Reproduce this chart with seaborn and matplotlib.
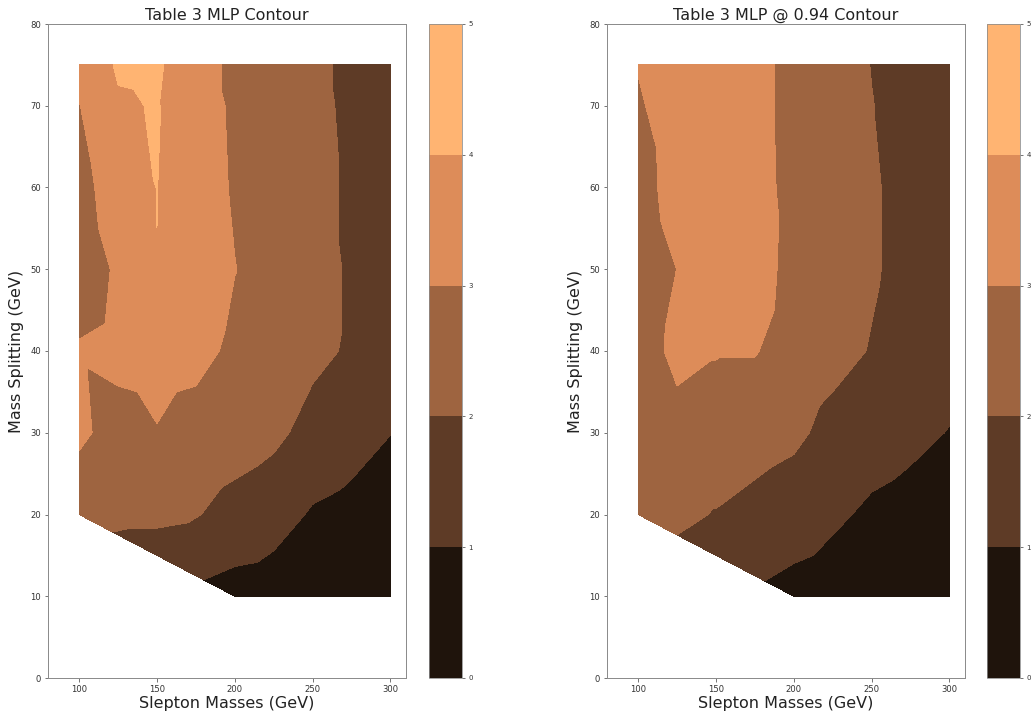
import numpy as np
import matplotlib
matplotlib.use("Agg")
import matplotlib.pyplot as plt
import matplotlib.tri as mtri
import seaborn as sns

# ---------------- data ----------------
slepton_masses = [100, 125, 150, 175, 200, 225, 250, 275, 300]
mass_splittings = [20, 30, 40, 50, 60, 70, 75]

# Table 3 MLP (rows follow mass_splittings, columns follow slepton_masses)
mlp_grid = [
    [2.30, 2.20, 2.10, 2.05, 1.70, 1.40, 0.90, 0.70, 0.40],
    [3.20, 2.60, 2.95, 2.60, 2.40, 2.20, 1.70, 1.40, 1.02],
    [3.10, 3.30, 3.40, 3.30, 2.80, 2.50, 2.20, 1.90, 1.60],
    [2.40, 3.15, 3.99, 3.60, 3.02, 2.60, 2.30, 1.90, 1.50],
    [2.60, 3.60, 4.01, 3.50, 2.90, 2.50, 2.20, 1.90, 1.50],
    [2.97, 3.90, 4.05, 3.45, 2.85, 2.50, 2.20, 1.85, 1.50],
    [3.30, 4.10, 4.15, 3.30, 2.85, 2.50, 2.20, 1.80, 1.50],
]
# Table 3 MLP @ 0.94
mlp094_grid = [
    [2.30, 2.20, 1.95, 1.70, 1.45, 1.15, 0.85, 0.70, 0.50],
    [2.60, 2.60, 2.60, 2.40, 2.20, 1.70, 1.40, 1.20, 0.97],
    [2.40, 3.30, 3.05, 3.05, 2.60, 2.30, 1.95, 1.60, 1.30],
    [2.30, 3.01, 3.60, 3.40, 2.70, 2.40, 2.10, 1.70, 1.40],
    [2.50, 3.50, 3.70, 3.30, 2.75, 2.40, 2.10, 1.70, 1.40],
    [2.87, 3.55, 3.65, 3.30, 2.72, 2.40, 2.02, 1.70, 1.47],
    [3.05, 3.60, 3.60, 3.30, 2.70, 2.40, 1.98, 1.70, 1.50],
]

# points on the lower diagonal edge
edge_masses = [125, 150, 175]
edge_splittings = [17.5, 15.0, 12.5]
mlp_edge = [1.95, 1.80, 1.10]
mlp094_edge = [2.00, 1.60, 1.10]

# lowest splitting row (10 GeV) for heavy sleptons
low_masses = [200, 225, 250, 275, 300]
low_splitting = 10
mlp_low = [0.60, 0.50, 0.40, 0.30, 0.20]
mlp094_low = [0.70, 0.55, 0.40, 0.30, 0.20]

levels = [0, 1, 2, 3, 4, 5]
titles = ["Table 3 MLP Contour", "Table 3 MLP @ 0.94 Contour"]


def gather(grid, edge_vals, low_vals):
    xs, ys, zs = [], [], []
    for dm, row in zip(mass_splittings, grid):
        for m, v in zip(slepton_masses, row):
            xs.append(m); ys.append(dm); zs.append(v)
    for m, dm, v in zip(edge_masses, edge_splittings, edge_vals):
        xs.append(m); ys.append(dm); zs.append(v)
    for m, v in zip(low_masses, low_vals):
        xs.append(m); ys.append(low_splitting); zs.append(v)
    return np.array(xs, float), np.array(ys, float), np.array(zs, float)


# ---------------- style ----------------
sns.set_style("white")
plt.rcParams["font.family"] = ["DejaVu Sans"]
plt.rcParams["axes.edgecolor"] = "#8c8c8c"
plt.rcParams["xtick.color"] = "#555555"
plt.rcParams["ytick.color"] = "#555555"
plt.rcParams["xtick.labelcolor"] = "#333333"
plt.rcParams["ytick.labelcolor"] = "#333333"

W, H = 1035, 715
fig = plt.figure(figsize=(W / 72, H / 72), dpi=72)

panels = [
    (mlp_grid, mlp_edge, mlp_low, (48, 406), (429, 462)),
    (mlp094_grid, mlp094_edge, mlp094_low, (607, 965), (987, 1020)),
]
top_px, bot_px = 24, 678

for (grid, ev, lv, (x0, x1), (c0, c1)), title in zip(panels, titles):
    ax = fig.add_axes([x0 / W, 1 - bot_px / H, (x1 - x0) / W, (bot_px - top_px) / H])
    cax = fig.add_axes([c0 / W, 1 - bot_px / H, (c1 - c0) / W, (bot_px - top_px) / H])
    xs, ys, zs = gather(grid, ev, lv)
    tri = mtri.Triangulation(xs, ys)
    cs = ax.tricontourf(tri, zs, levels=levels, cmap="copper")
    ax.set_xlim(80, 310)
    ax.set_ylim(0, 80)
    ax.set_xticks([100, 150, 200, 250, 300])
    ax.set_yticks(range(0, 81, 10))
    ax.tick_params(axis="both", labelsize=8.5, length=3.5, width=0.8, direction="out",
                   bottom=True, left=True)
    for s in ax.spines.values():
        s.set_linewidth(1.0)
    ax.set_title(title, fontsize=16, pad=4, color="#222222")
    ax.set_xlabel("Slepton Masses (GeV)", fontsize=16, labelpad=2, color="#222222")
    ax.set_ylabel("Mass Splitting (GeV)", fontsize=16, labelpad=6, color="#222222")

    cb = fig.colorbar(cs, cax=cax)
    cb.set_ticks(levels)
    cb.ax.tick_params(labelsize=7, length=3, width=0.8, right=True)
    cb.outline.set_edgecolor("#8c8c8c")

fig.savefig("out.png", dpi=72)
